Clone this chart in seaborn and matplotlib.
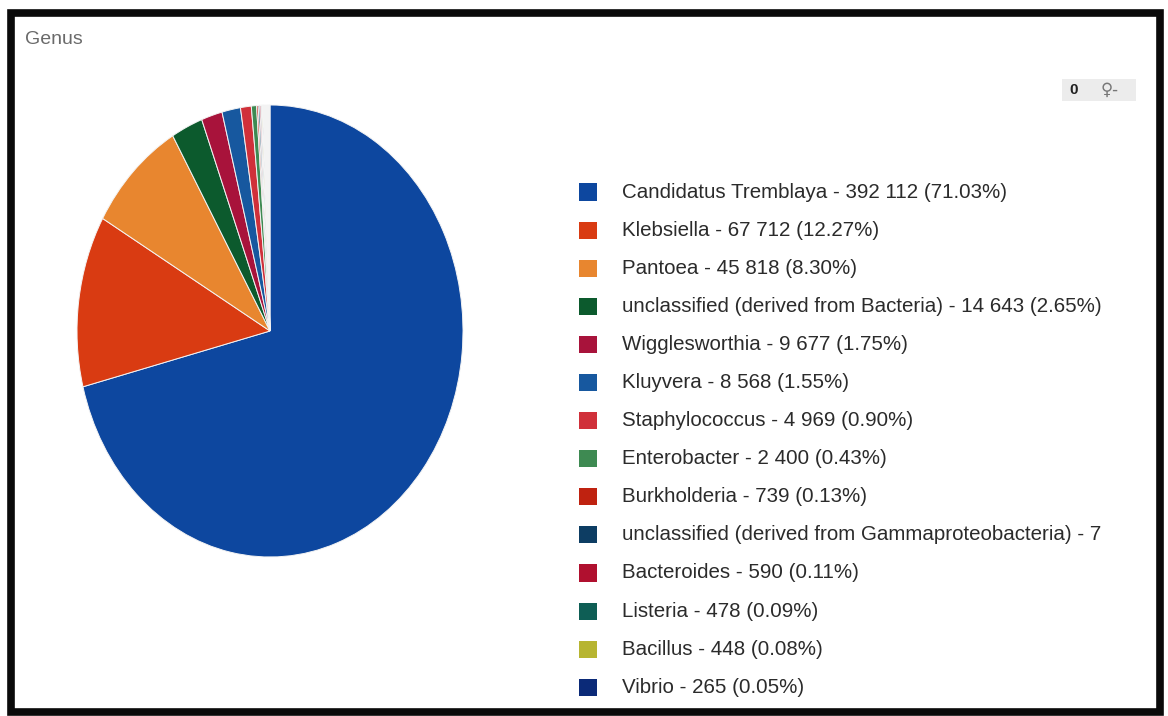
import matplotlib
matplotlib.use("Agg")
import matplotlib.pyplot as plt
import matplotlib.patches as mpatches
import seaborn as sns

# Read counts per genus (sorted by abundance)
genera = [
    "Candidatus Tremblaya",
    "Klebsiella",
    "Pantoea",
    "unclassified (derived from Bacteria)",
    "Wigglesworthia",
    "Kluyvera",
    "Staphylococcus",
    "Enterobacter",
    "Burkholderia",
    "unclassified (derived from Gammaproteobacteria)",
    "Bacteroides",
    "Listeria",
    "Bacillus",
    "Vibrio",
]
counts = [392112, 67712, 45818, 14643, 9677, 8568, 4969, 2400, 739, 720, 590, 478, 448, 265]
percents = [71.03, 12.27, 8.30, 2.65, 1.75, 1.55, 0.90, 0.43, 0.13, 0.13, 0.11, 0.09, 0.08, 0.05]
# remaining genera below the legend cut-off
other_count = 2898

colors = [
    "#0d479f", "#d93b12", "#e8862f", "#0c5a2d", "#a8133b", "#17589f", "#d0303a",
    "#3e8a52", "#bf2210", "#0d3d63", "#b0102f", "#0e5e55", "#b7b531", "#0b2a78",
]
other_color = "#f3f3f3"

sns.set_theme(style="white")
plt.rcParams["font.family"] = ["Liberation Sans", "DejaVu Sans"]

W, H = 1168, 716
fig = plt.figure(figsize=(W / 100, H / 100), dpi=100)
fig.patch.set_facecolor("white")


def px_axes(x0, y0, x1, y1):
    """Axes placed by pixel box (top-left origin)."""
    return fig.add_axes([x0 / W, 1 - y1 / H, (x1 - x0) / W, (y1 - y0) / H])


# Pie (slightly taller than wide)
ax = px_axes(77, 105, 463, 557)
ax.pie(
    counts + [other_count],
    colors=colors + [other_color],
    startangle=90,
    counterclock=False,
    radius=1.0,
    wedgeprops=dict(edgecolor="#f4f4f4", linewidth=0.7),
)
ax.set_aspect("auto")
ax.set_xlim(-1.0, 1.0)
ax.set_ylim(-1.0, 1.0)
ax.axis("off")


def fmt_count(v):
    return f"{v:,}".replace(",", " ")


labels = [f"{g} - {fmt_count(c)} ({p:.2f}%)" for g, c, p in zip(genera, counts, percents)]

# Legend panel
row0, step = 192, 38.1
text_x, max_text_px = 622, 480
lg = px_axes(570, 172, 1110, 706)
lg.set_xlim(570, 1110)
lg.set_ylim((706 - row0) / step, -(row0 - 172) / step)
lg.axis("off")
renderer = fig.canvas.get_renderer()
for i, (lab, col) in enumerate(zip(labels, colors)):
    lg.scatter([588], [i], marker="s", s=150, color=col, edgecolors="none")
    t = lg.text(text_x, i, lab, fontsize=14.8, color="#2b2b2b", va="center", ha="left")
    # legend entries too long for the panel are shortened to whole characters
    shown = lab
    while t.get_window_extent(renderer).width > max_text_px and len(shown) > 1:
        shown = shown[:-1].rstrip()
        t.set_text(shown)

# Title
fig.text(25 / W, 1 - 39 / H, "Genus", fontsize=14, color="#6a6a6a", va="center", ha="left")

# Toolbar button
fig.patches.append(mpatches.Rectangle((1062 / W, 1 - 101 / H), 74 / W, 22 / H,
                                      transform=fig.transFigure, facecolor="#ececec",
                                      edgecolor="none"))
fig.text(1074 / W, 1 - 90 / H, "0", fontsize=11, fontweight="bold", color="#222222",
         va="center", ha="center")
fig.text(1110 / W, 1 - 90 / H, "\u2640-", fontsize=12, color="#777777",
         va="center", ha="center", family=["DejaVu Sans"])

# Outer frame
fig.patches.append(mpatches.Rectangle((10.5 / W, 1 - 712 / H), 1149 / W, 699 / H,
                                      transform=fig.transFigure, facecolor="none",
                                      edgecolor="#0a0a0a", linewidth=5.5))

fig.savefig("out.png", dpi=100, facecolor="white")
